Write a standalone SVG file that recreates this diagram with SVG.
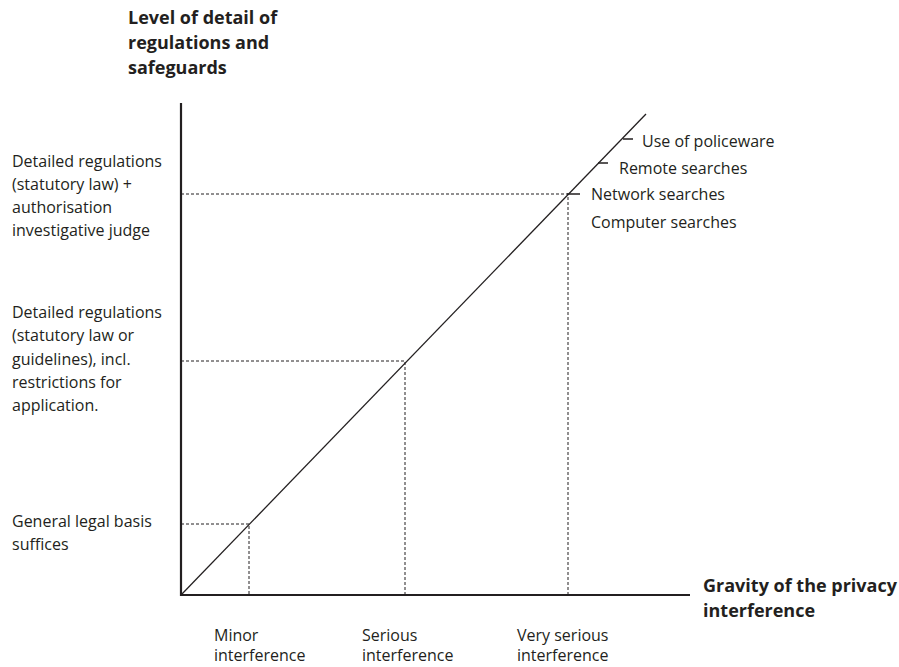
<svg xmlns="http://www.w3.org/2000/svg" width="899" height="667" viewBox="0 0 899 667">
<style>
text{font-family:"Open Sans","Noto Sans",sans-serif;font-size:16px;fill:#231f20}
.b{font-weight:bold;font-size:18px}
.ax{stroke:#231f20;stroke-width:2.2;fill:none}
.d{stroke:#231f20;stroke-width:1;stroke-dasharray:3 2;fill:none}
.l{stroke:#231f20;stroke-width:1.3;fill:none}
</style>
<rect width="899" height="667" fill="#fff"/>
<g id="titles">
<text class="b" x="128" y="24">Level of detail of</text>
<text class="b" x="128" y="49">regulations and</text>
<text class="b" x="128" y="74">safeguards</text>
<text class="b" x="703" y="592" font-size="17.5">Gravity of the privacy</text>
<text class="b" x="703" y="617" font-size="17.5">interference</text>
</g>
<g id="connectors">
<path class="ax" d="M181 103V595H690"/>
<path class="l" d="M181 595L646 114"/>
<path class="d" d="M181 524H249V595M181 361H405V595M181 194H568V595"/>
<path class="l" d="M623 139H633M598 163H608M567 194H580"/>
</g>
<g id="y-labels">
<text x="12" y="167">Detailed regulations</text>
<text x="12" y="190">(statutory law) +</text>
<text x="12" y="213">authorisation</text>
<text x="12" y="236">investigative judge</text>
<text x="12" y="318">Detailed regulations</text>
<text x="12" y="341">(statutory law or</text>
<text x="12" y="365">guidelines), incl.</text>
<text x="12" y="388">restrictions for</text>
<text x="12" y="411">application.</text>
<text x="12" y="527">General legal basis</text>
<text x="12" y="550">suffices</text>
</g>
<g id="x-labels">
<text x="214" y="641">Minor</text>
<text x="214" y="661">interference</text>
<text x="362" y="641">Serious</text>
<text x="362" y="661">interference</text>
<text x="517" y="641">Very serious</text>
<text x="517" y="661">interference</text>
</g>
<g id="items">
<text x="642" y="147">Use of policeware</text>
<text x="619" y="174">Remote searches</text>
<text x="591" y="200">Network searches</text>
<text x="591" y="228">Computer searches</text>
</g>
</svg>
